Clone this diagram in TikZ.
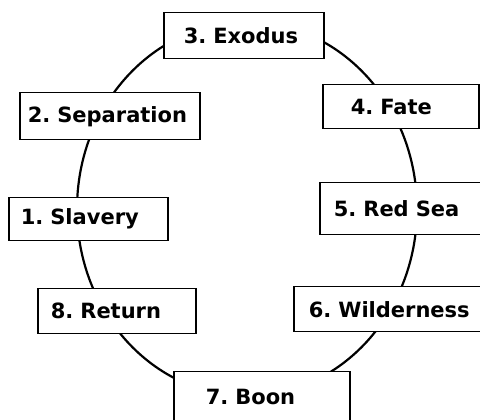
\documentclass[tikz,border=0pt]{standalone}
\usepackage{fontspec}
\setmainfont{DejaVu Sans}
\frenchspacing
\begin{document}
\begin{tikzpicture}[x=1pt,y=1pt,
    stage/.style={draw,line width=1.5pt,fill=white,anchor=north west,align=left,inner ysep=0pt,font=\fontsize{21}{24}\bfseries\selectfont},
    cycle/.style={line width=2.2pt}
  ]
  \useasboundingbox (0,0) rectangle (480,420);
  \coordinate (c) at (247,211);
  \draw[cycle] (c) ellipse [x radius=170, y radius=187];
  \node[stage,minimum width=160pt,text width=120pt,inner xsep=20pt,minimum height=46pt] (exodus) at (163,408) {3. Exodus};
  \node[stage,minimum width=180pt,text width=164pt,inner xsep=8pt,minimum height=47pt] (separation) at (19,328) {2. Separation};
  \node[stage,minimum width=159pt,text width=135pt,inner xsep=12pt,minimum height=43pt] (slavery) at (8,223) {1. Slavery};
  \node[stage,minimum width=156pt,text width=100pt,inner xsep=28pt,minimum height=44pt] (fate) at (322,336) {4. Fate};
  \node[stage,minimum width=170pt,text width=142pt,inner xsep=14pt,minimum height=52pt] (redsea) at (319,238) {5. Red Sea};
  \node[stage,minimum width=200pt,text width=170pt,inner xsep=15pt,minimum height=45pt] (wilderness) at (293,134) {6. Wilderness};
  \node[stage,minimum width=158pt,text width=132pt,inner xsep=13pt,minimum height=45pt] (return) at (37,132) {8. Return};
  \node[stage,minimum width=176pt,text width=112pt,inner xsep=32pt,minimum height=50pt] (boon) at (173,49) {7. Boon};
\end{tikzpicture}
\end{document}
